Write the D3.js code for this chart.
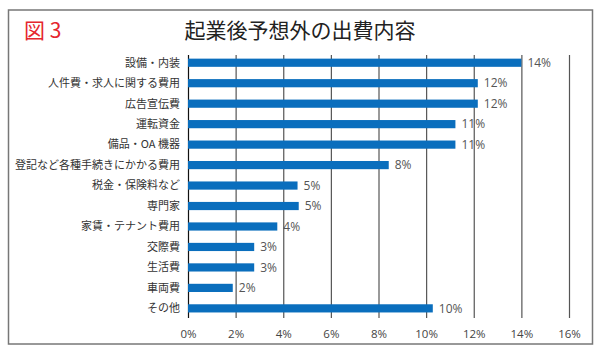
<!DOCTYPE html>
<html>
<head>
<meta charset="utf-8">
<script src="https://cdn.jsdelivr.net/npm/d3@7"></script>
<style>
  body { margin: 0; background: #fff; }
  svg { display: block; }
  text { font-family: "Noto Sans CJK JP", "Noto Sans", sans-serif; }
</style>
</head>
<body>
<svg id="chart" width="600" height="354"></svg>
<script>
// data
const categories = [
  "設備・内装", "人件費・求人に関する費用", "広告宣伝費", "運転資金", "備品・OA 機器",
  "登記など各種手続きにかかる費用", "税金・保険料など", "専門家", "家賃・テナント費用",
  "交際費", "生活費", "車両費", "その他"
];
const values = [14.0, 12.17, 12.17, 11.23, 11.23, 8.43, 4.6, 4.65, 3.75, 2.78, 2.78, 1.88, 10.28];
const valueLabels = ["14%", "12%", "12%", "11%", "11%", "8%", "5%", "5%", "4%", "3%", "3%", "2%", "10%"];
const ticks = [0, 2, 4, 6, 8, 10, 12, 14, 16];

const svg = d3.select("#chart");

// outer frame
svg.append("rect")
    .attr("x", 8.5).attr("y", 10)
    .attr("width", 584).attr("height", 334)
    .attr("fill", "none")
    .attr("stroke", "#777")
    .attr("stroke-width", 1.5);

// heading
svg.append("text")
    .attr("x", 24).attr("y", 38)
    .attr("fill", "#e5262e")
    .style("font-size", "21px")
    .text("図 3");

svg.append("text")
    .attr("x", 300).attr("y", 38)
    .attr("text-anchor", "middle")
    .attr("fill", "#222")
    .style("font-size", "21px")
    .text("起業後予想外の出費内容");

// scales
const x = d3.scaleLinear().domain([0, 16]).range([188, 569]);
const y = d3.scaleBand().domain(categories).range([52.5, 318.6]).paddingInner(0.6).paddingOuter(0.3);

const gridTop = 55, gridBottom = 318;

// gridlines
svg.append("g")
    .attr("class", "grid")
    .attr("transform", `translate(0,${gridBottom})`)
    .call(d3.axisBottom(x).tickValues(ticks).tickSize(-(gridBottom - gridTop)).tickFormat(""))
    .call(g => g.select(".domain").remove())
    .call(g => g.selectAll("line").attr("stroke", d => d === 0 ? "#111" : "#555").attr("stroke-width", 1.2));

// tick labels
svg.append("g")
    .attr("transform", `translate(0,${gridBottom})`)
    .call(d3.axisBottom(x).tickValues(ticks).tickSize(0).tickPadding(12).tickFormat(d => d + "%"))
    .call(g => g.select(".domain").remove())
    .call(g => g.selectAll("text")
        .attr("fill", "#444")
        .style("font-family", "'Open Sans', 'Noto Sans', sans-serif")
        .style("font-size", "11.5px"));

// bars
svg.append("g").selectAll("rect")
    .data(values)
    .join("rect")
    .attr("x", x(0))
    .attr("y", (d, i) => y(categories[i]))
    .attr("width", d => x(d) - x(0))
    .attr("height", y.bandwidth())
    .attr("fill", "#0a6ebd");

// value labels
svg.append("g").selectAll("text")
    .data(values)
    .join("text")
    .attr("x", d => x(d) + 6)
    .attr("y", (d, i) => y(categories[i]) + y.bandwidth() / 2)
    .attr("dy", "0.35em")
    .attr("fill", "#555")
    .style("font-family", "'Open Sans', 'Noto Sans', sans-serif")
    .style("font-size", "12px")
    .text((d, i) => valueLabels[i]);

// category labels
svg.append("g").selectAll("text")
    .data(categories)
    .join("text")
    .attr("x", 180)
    .attr("y", d => y(d) + y.bandwidth() / 2)
    .attr("dy", "0.35em")
    .attr("text-anchor", "end")
    .attr("fill", "#333")
    .style("font-size", "11px")
    .text(d => d);
</script>
</body>
</html>
